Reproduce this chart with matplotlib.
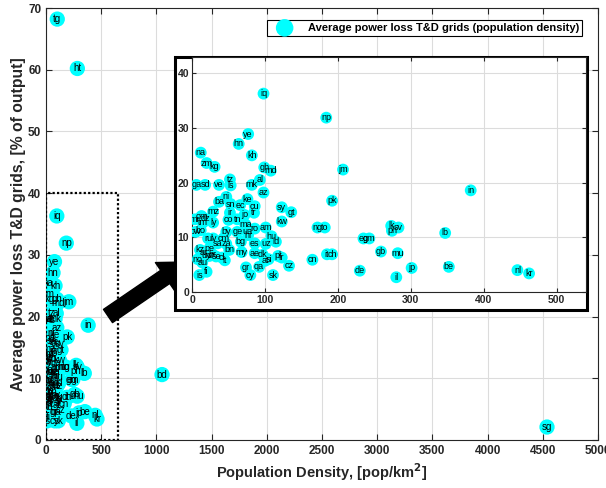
import matplotlib
matplotlib.use("Agg")
import matplotlib.pyplot as plt
from matplotlib.patches import Rectangle
import numpy as np

plt.rcParams['font.family'] = ['Liberation Sans', 'DejaVu Sans']

codes = ["tg", "ht", "bd", "sg", "iq", "ye", "hn", "kh", "na", "zm", "kg", "gh", "md",
         "np", "jm", "ga", "sd", "ve", "tz", "ls", "mk", "al", "az", "pk", "in", "sy",
         "gt", "kw", "ba", "ni", "sn", "ec", "ke", "cu", "tr", "ir", "mz", "om", "mr",
         "dz", "tm", "ly", "co", "tn", "jo", "ma", "ro", "am", "hu", "id", "uz", "es",
         "ge", "ua", "hr", "by", "bo", "bw", "ru", "lv", "cm", "sa", "za", "bg", "kz",
         "pe", "bn", "my", "ae", "dk", "at", "qa", "gr", "cy", "sk", "cz", "pl", "fr",
         "si", "au", "is", "fi", "cl", "lt", "nz", "ar", "uy", "br", "no", "se",
         "ng", "to", "lk", "ph", "sv", "lb", "eg", "gm", "gb", "mu", "it", "ch", "cn",
         "de", "il", "jp", "be", "nl", "kr"]
density = [102, 284, 1051, 4538, 98, 77, 64, 82, 12, 20, 31, 99, 108,
           184, 207, 6, 18, 37, 52, 53, 82, 93, 98, 192, 382, 123,
           136, 123, 37, 47, 53, 66, 76, 86, 85, 52, 29, 13, 4,
           18, 15, 29, 50, 62, 72, 73, 86, 101, 109, 115, 101, 86,
           62, 76, 77, 47, 12, 5, 22, 29, 43, 35, 47, 67, 11,
           24, 51, 68, 86, 97, 100, 92, 74, 80, 111, 133, 118, 123,
           105, 14, 10, 20, 41, 45, 24, 16, 20, 28, 8, 33,
           172, 182, 273, 274, 283, 347, 235, 243, 259, 282, 185, 192, 165,
           230, 280, 301, 352, 446, 462]
loss = [68.2, 60.2, 10.6, 2.1, 36.3, 28.9, 27.1, 25.0, 25.5, 23.6, 22.9, 22.8, 22.2,
        31.9, 22.4, 19.6, 19.6, 19.6, 20.6, 19.5, 19.6, 20.5, 18.2, 16.7, 18.6, 15.5,
        14.6, 12.9, 16.5, 17.4, 16.1, 15.9, 17.0, 15.7, 14.5, 14.5, 14.7, 13.9, 13.3,
        13.4, 12.7, 12.7, 13.2, 13.3, 14.1, 12.4, 11.6, 11.8, 10.2, 9.2, 8.8, 8.9,
        11.0, 11.0, 10.4, 11.0, 11.3, 11.0, 9.8, 9.8, 9.8, 8.9, 8.8, 9.2, 7.7,
        8.0, 7.7, 7.3, 7.1, 6.8, 5.7, 4.6, 4.5, 3.1, 3.1, 4.8, 6.6, 6.3,
        6.0, 5.4, 3.1, 3.7, 6.3, 5.8, 6.6, 7.2, 6.6, 6.9, 6.0, 6.5,
        11.8, 11.8, 12.1, 11.2, 11.8, 10.8, 9.8, 9.8, 7.4, 7.1, 6.9, 6.9, 5.9,
        3.9, 2.7, 4.4, 4.6, 4.0, 3.4]

main_xticks = list(range(0, 5001, 500))
main_yticks = list(range(0, 71, 10))
inset_xticks = list(range(0, 501, 100))
inset_yticks = list(range(0, 41, 10))

W, H = 606, 488
fig = plt.figure(figsize=(W / 100, H / 100), dpi=100)

def px(l, b, r, t):
    return [l / W, (H - b) / H, (r - l) / W, (b - t) / H]

cyan = '#00FFFF'

# ---------- main axes ----------
ax = fig.add_axes(px(46, 440, 598, 8))
ax.set_zorder(0)
ax.scatter(density, loss, s=11**2, color=cyan, edgecolors='none', zorder=3,
           label='Average power loss T&D grids (population density)')
for c, x, y in zip(codes, density, loss):
    ax.text(x, y, c, fontsize=7, ha='center', va='center', zorder=4, clip_on=True)
ax.set_xlim(0, 5000)
ax.set_ylim(0, 70)
ax.set_xticks(main_xticks)
ax.set_yticks(main_yticks)
ax.grid(True, color='#dcdcdc', linewidth=0.8)
ax.set_axisbelow(True)
ax.tick_params(direction='in', top=True, right=True, length=4, width=0.8,
               labelsize=8.5, colors='#262626')
for lab in ax.get_xticklabels() + ax.get_yticklabels():
    lab.set_fontweight('bold')
for s in ax.spines.values():
    s.set_color('#262626')
ax.set_xlabel('Population Density, [pop/km$^\\mathbf{2}$]', fontsize=10.5,
              fontweight='bold', color='#262626', labelpad=3)
ax.set_ylabel('Average power loss T&D grids, [% of output]', fontsize=11.3,
              fontweight='bold', color='#262626', labelpad=1)
ax.add_patch(Rectangle((0, 0), 650, 40, fill=False, edgecolor='black',
                       linewidth=1.6, linestyle=(0, (1, 1)), zorder=5))
leg = ax.legend(loc='upper right', bbox_to_anchor=((582 - 46) / 552, (440 - 20) / 432),
                borderaxespad=0, fancybox=False, edgecolor='black', framealpha=1,
                prop={'weight': 'bold', 'size': 8}, markerscale=1.15,
                handletextpad=0.8, borderpad=0.25, handlelength=2.6)
leg.get_frame().set_linewidth(0.8)

# arrow
ax.annotate('', xy=(187, H - 262), xytext=(108, H - 316), xycoords='figure pixels',
            textcoords='figure pixels',
            arrowprops=dict(arrowstyle='simple,head_width=2.5,head_length=1.9,tail_width=1.15',
                            color='black', mutation_scale=10, shrinkA=0, shrinkB=0),
            zorder=6)

# inset frame
frame = Rectangle((175 / W, (H - 310) / H), (587 - 175) / W, (310 - 57) / H,
                  transform=fig.transFigure, facecolor='white', edgecolor='black',
                  linewidth=2.2, zorder=1)
fig.add_artist(frame)

# ---------- inset axes ----------
ins = fig.add_axes(px(192, 292, 586, 57))
ins.set_zorder(2)
ins.scatter(density, loss, s=8.5**2, color=cyan, edgecolors='none', zorder=3)
for c, x, y in zip(codes, density, loss):
    ins.text(x, y, c, fontsize=6.5, ha='center', va='center', zorder=4, clip_on=True)
ins.set_xlim(0, 540)
ins.set_ylim(0, 43)
ins.set_xticks(inset_xticks)
ins.set_yticks(inset_yticks)
ins.grid(True, color='#dcdcdc', linewidth=0.8)
ins.set_axisbelow(True)
ins.tick_params(direction='in', top=True, right=True, length=3, width=0.8,
                labelsize=7.5, colors='#262626', pad=2)
for lab in ins.get_xticklabels() + ins.get_yticklabels():
    lab.set_fontweight('bold')
for s in ins.spines.values():
    s.set_color('#262626')

fig.savefig('out.png', dpi=100)
